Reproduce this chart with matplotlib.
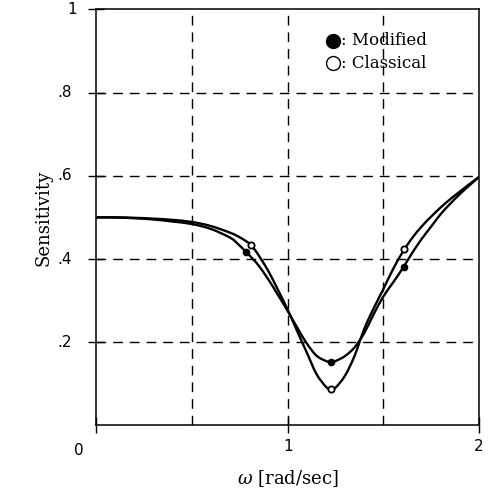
import matplotlib
matplotlib.use("Agg")
import matplotlib.pyplot as plt
import numpy as np
from matplotlib.path import Path
from matplotlib.patches import PathPatch

# curves
w_cl = [0, 0.1, 0.2, 0.3, 0.4, 0.5, 0.6, 0.7, 0.75, 0.8, 0.83, 0.86, 0.9, 0.95,
        1.0, 1.05, 1.1, 1.15, 1.2, 1.226, 1.25, 1.3, 1.35, 1.4, 1.45, 1.5, 1.55,
        1.6, 1.65, 1.7, 1.75, 1.8, 1.85, 1.9, 1.95, 2.0]
s_cl = [0.5, 0.5, 0.499, 0.497, 0.494, 0.489, 0.479, 0.463, 0.452, 0.437, 0.421,
        0.40, 0.37, 0.325, 0.278, 0.226, 0.175, 0.124, 0.093, 0.087, 0.091,
        0.12, 0.168, 0.232, 0.282, 0.328, 0.375, 0.416, 0.45, 0.478, 0.502,
        0.524, 0.544, 0.562, 0.58, 0.597]

w_md = [0, 0.1, 0.2, 0.3, 0.4, 0.5, 0.6, 0.7, 0.74, 0.78, 0.82, 0.85, 0.9, 0.95,
        1.0, 1.05, 1.1, 1.15, 1.2, 1.226, 1.25, 1.3, 1.35, 1.4, 1.45, 1.5, 1.55,
        1.6, 1.65, 1.7, 1.75, 1.8, 1.85, 1.9, 1.95, 2.0]
s_md = [0.5, 0.5, 0.498, 0.495, 0.49, 0.484, 0.472, 0.451, 0.436, 0.418, 0.399,
        0.383, 0.35, 0.313, 0.275, 0.235, 0.197, 0.168, 0.155, 0.153, 0.155,
        0.167, 0.188, 0.222, 0.268, 0.31, 0.343, 0.377, 0.414, 0.448, 0.478,
        0.508, 0.533, 0.556, 0.577, 0.597]

# marked points
mk_w_md = [0.78, 1.226, 1.61]
mk_s_md = [0.417, 0.153, 0.382]
mk_w_cl = [0.806, 1.226, 1.61]
mk_s_cl = [0.434, 0.087, 0.424]

grid_x = [0.5, 1.0, 1.5]
grid_y = [0.2, 0.4, 0.6, 0.8]
yticks = [0.2, 0.4, 0.6, 0.8, 1.0]
ylabels = ['.2', '.4', '.6', '.8', '1']
xticks = [0, 1, 2]
xlabels = ['', '1', '2']

serif = 'DejaVu Serif'
plt.rcParams['mathtext.fontset'] = 'dejavuserif'


def smooth_path(x, y):
	# catmull-rom through the read points, as cubic bezier segments
	p = np.column_stack([x, y])
	q = np.vstack([p[0], p, p[-1]])
	verts = [p[0]]
	codes = [Path.MOVETO]
	for i in range(1, len(q) - 2):
		c1 = q[i] + (q[i + 1] - q[i - 1]) / 6.0
		c2 = q[i + 1] - (q[i + 2] - q[i]) / 6.0
		verts += [c1, c2, q[i + 1]]
		codes += [Path.CURVE4] * 3
	return Path(verts, codes)


fig = plt.figure(figsize=(4.91, 4.99), dpi=100)
ax = fig.add_axes([0.1965, 0.1473, 0.779, 0.834])

for gx in grid_x:
	ax.axvline(gx, color='black', lw=1.0, ls=(0, (7, 5)), zorder=1)
for gy in grid_y:
	ax.axhline(gy, color='black', lw=1.0, ls=(0, (7, 5)), zorder=1)

for xs, ys in [(w_cl, s_cl), (w_md, s_md)]:
	ax.add_patch(PathPatch(smooth_path(xs, ys), fill=False, edgecolor='black',
	                       lw=1.7, zorder=3))
ax.plot(mk_w_md, mk_s_md, 'o', color='black', ms=4.5, zorder=4)
ax.plot(mk_w_cl, mk_s_cl, 'o', mfc='white', mec='black', ms=4.5, mew=1.3, zorder=4)

ax.set_xlim(0, 2)
ax.set_ylim(0, 1)
for sp in ax.spines.values():
	sp.set_linewidth(1.1)

ax.set_yticks(yticks)
ax.set_yticklabels([])
ax.set_xticks(xticks)
ax.set_xticklabels(xlabels, fontsize=11, family='DejaVu Sans')
ax.tick_params(axis='both', direction='inout', length=12, width=1.0)
ax.tick_params(axis='x', pad=4)

# y tick labels drawn by hand (plotter style placement)
for v, lab in zip(yticks, ylabels):
	xoff = -0.05 if lab == '1' else -0.064
	ax.text(xoff, v, lab, transform=ax.get_yaxis_transform(), ha='right',
	        va='center', fontsize=11, family='DejaVu Sans')
ax.text(-0.046, -0.059, '0', transform=ax.transAxes, ha='center', va='center',
        fontsize=11, family='DejaVu Sans')

ax.set_ylabel('Sensitivity', family=serif, fontsize=13, labelpad=22)
ax.set_xlabel(r'$\omega$ [rad/sec]', family=serif, fontsize=13, labelpad=10)

# legend drawn inside the box
ax.plot([0.618], [0.924], 'o', color='black', ms=10, transform=ax.transAxes)
ax.plot([0.618], [0.871], 'o', mfc='white', mec='black', mew=1.0, ms=10,
        transform=ax.transAxes)
ax.text(0.64, 0.924, ': Modified', transform=ax.transAxes, ha='left',
        va='center', fontsize=12, family=serif)
ax.text(0.64, 0.871, ': Classical', transform=ax.transAxes, ha='left',
        va='center', fontsize=12, family=serif)

fig.savefig('out.png', dpi=100)
